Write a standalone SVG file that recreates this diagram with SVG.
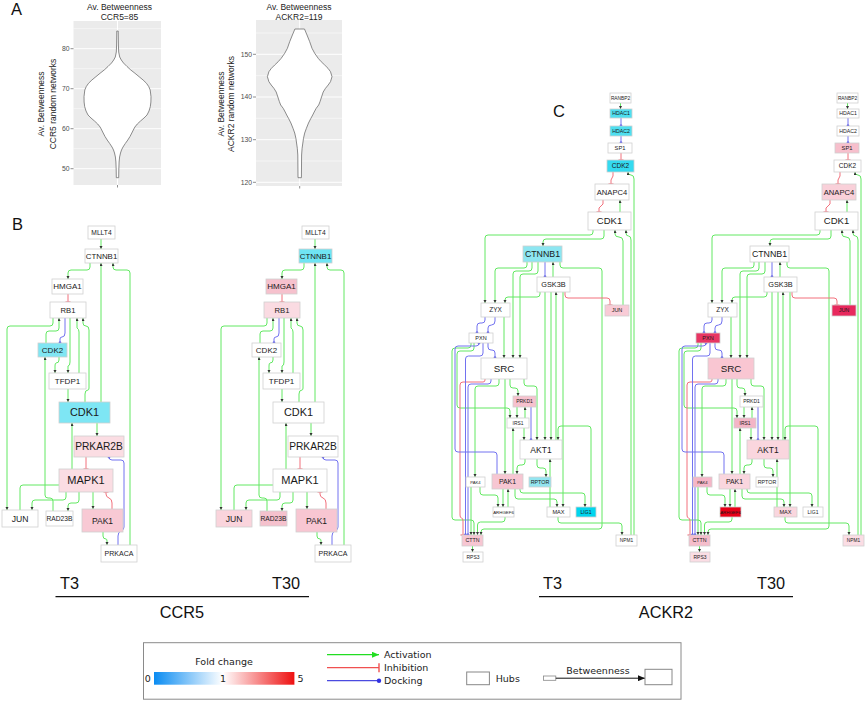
<svg xmlns="http://www.w3.org/2000/svg" width="865" height="701" viewBox="0 0 865 701">
<defs>
<style>
.bg{fill:#ebebeb}
.gM{stroke:#fff;stroke-width:1}
.gm{stroke:#fff;stroke-width:0.5}
.vio{fill:#fff;stroke:#6e6e6e;stroke-width:0.8;stroke-linejoin:round}
.tk{stroke:#444;stroke-width:0.6}
.ax{font-family:"Liberation Sans",Arial,sans-serif;fill:#4d4d4d;font-size:6.8px;text-anchor:end}
.tt{font-family:"Liberation Sans",Arial,sans-serif;fill:#222;font-size:8.5px;text-anchor:middle}
.pl{font-family:"Liberation Sans",Arial,sans-serif;fill:#111;font-size:16.5px}
.n{stroke:#d0d0d0;stroke-width:0.8}
.l{font-family:"Liberation Sans",Arial,sans-serif;fill:#1a1a1a;text-anchor:middle}
.g{fill:none;stroke:#62e862;stroke-width:1;marker-end:url(#ar)}
.r{fill:none;stroke:#f2707c;stroke-width:1;marker-end:url(#inh)}
.b{fill:none;stroke:#7272f0;stroke-width:1;marker-end:url(#dot)}
.big{font-family:"Liberation Sans",Arial,sans-serif;fill:#111;font-size:16.3px}
.lg{font-family:"DejaVu Sans",Verdana,sans-serif;fill:#222;font-size:9.5px}
</style>
<marker id="ar" markerWidth="4" markerHeight="4" refX="3" refY="1.5" orient="auto" markerUnits="userSpaceOnUse"><path d="M0,0 L3,1.5 L0,3 Z" fill="#333"/></marker>
<marker id="inh" markerWidth="3" markerHeight="6" refX="1" refY="3" orient="auto" markerUnits="userSpaceOnUse"><path d="M1,0.5 V5.5" stroke="#f2707c" stroke-width="1.2"/></marker>
<marker id="dot" markerWidth="4" markerHeight="4" refX="2" refY="2" orient="auto" markerUnits="userSpaceOnUse"><circle cx="2" cy="2" r="1.4" fill="#4a4ae6"/></marker>
<marker id="lgA" markerWidth="8" markerHeight="6" refX="7" refY="3" orient="auto" markerUnits="userSpaceOnUse"><path d="M0,0 L7,3 L0,6 Z" fill="#22dd22"/></marker>
<marker id="lgI" markerWidth="3" markerHeight="10" refX="1.5" refY="5" orient="auto" markerUnits="userSpaceOnUse"><path d="M1.5,0.5 V9.5" stroke="#f05050" stroke-width="1.4"/></marker>
<marker id="lgD" markerWidth="6" markerHeight="6" refX="3" refY="3" orient="auto" markerUnits="userSpaceOnUse"><circle cx="3" cy="3" r="2.2" fill="#3030e0"/></marker>
<marker id="lgB" markerWidth="8" markerHeight="6" refX="7" refY="3" orient="auto" markerUnits="userSpaceOnUse"><path d="M0,0 L7,3 L0,6 Z" fill="#111"/></marker>
<linearGradient id="fc" x1="0" x2="1" y1="0" y2="0">
<stop offset="0" stop-color="#0a8cf2"/>
<stop offset="0.49" stop-color="#ffffff"/>
<stop offset="1" stop-color="#ee1010"/>
</linearGradient>
</defs>
<rect width="865" height="701" fill="#fff"/>

<!-- Panel A -->
<g id="panelA">
<text class="pl" x="11" y="15">A</text>
<g id="violinL">
<rect class="bg" x="73.5" y="21" width="87.5" height="164"/>
<line class="gm" x1="73.5" x2="161" y1="28.7" y2="28.7"/>
<line class="gm" x1="73.5" x2="161" y1="68.7" y2="68.7"/>
<line class="gm" x1="73.5" x2="161" y1="108.7" y2="108.7"/>
<line class="gm" x1="73.5" x2="161" y1="148.7" y2="148.7"/>
<line class="gM" x1="73.5" x2="161" y1="48.7" y2="48.7"/>
<line class="gM" x1="73.5" x2="161" y1="88.7" y2="88.7"/>
<line class="gM" x1="73.5" x2="161" y1="128.7" y2="128.7"/>
<line class="gM" x1="73.5" x2="161" y1="168.7" y2="168.7"/>
<line class="gM" x1="117.5" x2="117.5" y1="21" y2="185"/>
<path class="vio" d="M116.8,31 L116.6,45 L116.3,52 L115.3,57 L113.7,60 L111.5,63 L108,66.5 L104.2,70 L100,73.3 L95.9,76.7 L91.9,80 L88.5,83.3 L86.2,86.7 L84.8,90 L84,96.7 L84.1,102 L84.7,106.7 L86,111 L88,115 L91,118 L94.5,121 L97.7,124 L100.1,127 L101.7,130 L103.2,133 L105,136.5 L107.2,140 L109.7,143.5 L112,147 L113.5,150 L114.5,153 L115.4,157 L115.9,162 L116.2,170 L116.3,177.7 L118.7,177.7 L118.8,170 L119.1,162 L119.6,157 L120.5,153 L121.5,150 L123,147 L125.3,143.5 L127.8,140 L130,136.5 L131.8,133 L133.3,130 L134.9,127 L137.3,124 L140.5,121 L144,118 L147,115 L149,111 L150.3,106.7 L150.9,102 L151,96.7 L150.2,90 L148.8,86.7 L146.5,83.3 L143.1,80 L139.1,76.7 L135,73.3 L130.8,70 L127,66.5 L123.5,63 L121.3,60 L119.7,57 L118.7,52 L118.4,45 L118.2,31 Z"/>
<line class="tk" x1="70.5" x2="73.5" y1="48.7" y2="48.7"/>
<line class="tk" x1="70.5" x2="73.5" y1="88.7" y2="88.7"/>
<line class="tk" x1="70.5" x2="73.5" y1="128.7" y2="128.7"/>
<line class="tk" x1="70.5" x2="73.5" y1="168.7" y2="168.7"/>
<line class="tk" x1="117.5" x2="117.5" y1="185" y2="187.5"/>
<text class="ax" x="69.5" y="51.1">80</text>
<text class="ax" x="69.5" y="91.1">70</text>
<text class="ax" x="69.5" y="131.1">60</text>
<text class="ax" x="69.5" y="171.1">50</text>
<text class="tt" x="119.5" y="10">Av. Betweenness</text>
<text class="tt" x="119.5" y="19.5">CCR5=85</text>
<text class="tt" transform="translate(44,104) rotate(-90)">Av. Betweenness</text>
<text class="tt" transform="translate(56,104) rotate(-90)">CCR5 random networks</text>
</g>
<g id="violinR">
<rect class="bg" x="256" y="20" width="86" height="166"/>
<line class="gm" x1="256" x2="342" y1="33" y2="33"/>
<line class="gm" x1="256" x2="342" y1="75.7" y2="75.7"/>
<line class="gm" x1="256" x2="342" y1="118.3" y2="118.3"/>
<line class="gm" x1="256" x2="342" y1="161" y2="161"/>
<line class="gM" x1="256" x2="342" y1="54.3" y2="54.3"/>
<line class="gM" x1="256" x2="342" y1="97" y2="97"/>
<line class="gM" x1="256" x2="342" y1="139.7" y2="139.7"/>
<line class="gM" x1="256" x2="342" y1="182.3" y2="182.3"/>
<line class="gM" x1="299.7" x2="299.7" y1="20" y2="186"/>
<path class="vio" d="M294.9,29 L292.4,35 L289.7,41.7 L287.4,48.3 L284.7,53.3 L281.2,58.3 L278.2,61.7 L274.7,65 L271.4,68.3 L268.9,71.7 L267.4,76.7 L268.9,81.7 L271.2,85 L273.9,88.3 L276.2,92 L277.2,95 L279.4,101.7 L280.7,105 L283.2,108.3 L285.2,112 L286.7,115 L288.5,118.3 L290.9,123 L293,128.3 L294.7,133 L295.9,138.3 L297.3,148.3 L297.8,155 L298,177.7 L301.4,177.7 L301.6,155 L302.1,148.3 L303.5,138.3 L304.7,133 L306.4,128.3 L308.5,123 L310.9,118.3 L312.7,115 L314.2,112 L316.2,108.3 L318.7,105 L320,101.7 L322.2,95 L323.2,92 L325.5,88.3 L328.2,85 L330.5,81.7 L332,76.7 L330.5,71.7 L328,68.3 L324.7,65 L321.2,61.7 L318.2,58.3 L314.7,53.3 L312,48.3 L309.7,41.7 L307,35 L304.5,29 Z"/>
<line class="tk" x1="253" x2="256" y1="54.3" y2="54.3"/>
<line class="tk" x1="253" x2="256" y1="97" y2="97"/>
<line class="tk" x1="253" x2="256" y1="139.7" y2="139.7"/>
<line class="tk" x1="253" x2="256" y1="182.3" y2="182.3"/>
<line class="tk" x1="299.7" x2="299.7" y1="186" y2="188.5"/>
<text class="ax" x="252" y="56.7">150</text>
<text class="ax" x="252" y="99.4">140</text>
<text class="ax" x="252" y="142.1">130</text>
<text class="ax" x="252" y="184.7">120</text>
<text class="tt" x="299" y="10">Av. Betweenness</text>
<text class="tt" x="299" y="19.5">ACKR2=119</text>
<text class="tt" transform="translate(223.7,104) rotate(-90)">Av. Betweenness</text>
<text class="tt" transform="translate(234,104) rotate(-90)">ACKR2 random networks</text>
</g>
</g>

<!-- Panel B -->
<text class="pl" x="12" y="230">B</text>
<g id="B-T3">
<g id="B-T3-edges">
<path class="g" d="M101,239V249"/>
<path class="g" d="M90,263V267Q90,270 87,270H71Q68,270 68,273V279"/>
<path class="r" d="M68,294V302"/>
<path class="g" d="M53,318V323Q53,326 50,326H10Q7,326 7,329V510"/>
<path class="g" d="M46,343V334Q46,331 49,331H56Q59,331 59,328V318"/>
<path class="b" d="M65,318V333Q65,337 62,337Q60,337 60,339V343"/>
<path class="g" d="M70,318V362Q70,366 68,366V373"/>
<path class="g" d="M79,373V332Q79,329 77,328V318"/>
<path class="g" d="M85,402V394Q85,390 88,390Q89,390 89,388V330Q89,326 86,326Q83,326 83,323V318"/>
<path class="g" d="M59,357V360Q59,363 56,363Q55,363 55,366V373"/>
<path class="g" d="M101,402V263"/>
<path class="g" d="M130,545V273Q130,270 127,270H116Q113,270 113,267V263"/>
<path class="g" d="M53,511V501Q53,498 50,498H48Q45,498 45,495V357"/>
<path class="g" d="M68,389V402"/>
<path class="g" d="M20,510V488Q20,485 23,485H69Q72,485 72,482V423"/>
<path class="g" d="M97,423V436"/>
<path class="r" d="M86,457V469"/>
<path class="g" d="M66,492V497Q66,500 63,500H35Q32,500 32,503V510"/>
<path class="g" d="M79,492V500Q79,503 76,503H71Q68,503 68,506V511"/>
<path class="g" d="M93,492V509"/>
<path class="r" d="M112,509V503Q112,499 109,498Q106,497 106,494V492"/>
<path class="g" d="M103,532V536Q103,539 106,539Q107,539 107,541V545"/>
<path class="b" d="M118,545V536Q118,532 121,531Q124,530 124,527V463Q124,460 121,460H112Q109,460 109,457"/>
</g>
<g id="bL-MLLT4"><rect class="n" fill="#fff" x="88" y="226" width="27" height="13"/><text class="l" x="101.5" y="234.9" font-size="6.7">MLLT4</text></g>
<g id="bL-CTNNB1"><rect class="n" fill="#fff" x="85" y="249" width="33" height="14"/><text class="l" x="101.5" y="258.8" font-size="7.9">CTNNB1</text></g>
<g id="bL-HMGA1"><rect class="n" fill="#fff" x="52" y="279" width="31" height="15"/><text class="l" x="67.5" y="289.3" font-size="8">HMGA1</text></g>
<g id="bL-RB1"><rect class="n" fill="#fff" x="50" y="302" width="36" height="16"/><text class="l" x="68" y="312.7" font-size="7.7">RB1</text></g>
<g id="bL-CDK2"><rect class="n" fill="#80e6f3" x="38" y="343" width="29" height="14"/><text class="l" x="52.5" y="352.8" font-size="8">CDK2</text></g>
<g id="bL-TFDP1"><rect class="n" fill="#fff" x="49" y="373" width="37" height="16"/><text class="l" x="67.5" y="383.8" font-size="8">TFDP1</text></g>
<g id="bL-CDK1"><rect class="n" fill="#7ee6f4" x="59" y="402" width="51" height="21"/><text class="l" x="84.5" y="416.3" font-size="10.9">CDK1</text></g>
<g id="bL-PRKAR2B"><rect class="n" fill="#fbdde3" x="74" y="436" width="50" height="21"/><text class="l" x="99" y="450.1" font-size="10.2">PRKAR2B</text></g>
<g id="bL-MAPK1"><rect class="n" fill="#fbdde3" x="59" y="469" width="54" height="23"/><text class="l" x="86" y="484.4" font-size="11">MAPK1</text></g>
<g id="bL-JUN"><rect class="n" fill="#fff" x="2" y="510" width="36" height="17"/><text class="l" x="20" y="521.5" font-size="8.6">JUN</text></g>
<g id="bL-RAD23B"><rect class="n" fill="#fff" x="46" y="511" width="27" height="15"/><text class="l" x="59.5" y="520.9" font-size="6.7">RAD23B</text></g>
<g id="bL-PAK1"><rect class="n" fill="#f8c9d4" x="82" y="509" width="41" height="23"/><text class="l" x="102.5" y="523.5" font-size="8.5">PAK1</text></g>
<g id="bL-PRKACA"><rect class="n" fill="#fff" x="101" y="545" width="36" height="17"/><text class="l" x="119" y="556" font-size="7">PRKACA</text></g>
</g>

<g id="B-T30" transform="translate(214,0)">
<g id="B-T30-edges">
<path class="g" d="M101,239V249"/>
<path class="g" d="M90,263V267Q90,270 87,270H71Q68,270 68,273V279"/>
<path class="r" d="M68,294V302"/>
<path class="g" d="M53,318V323Q53,326 50,326H10Q7,326 7,329V510"/>
<path class="g" d="M46,343V334Q46,331 49,331H56Q59,331 59,328V318"/>
<path class="b" d="M65,318V333Q65,337 62,337Q60,337 60,339V343"/>
<path class="g" d="M70,318V362Q70,366 68,366V373"/>
<path class="g" d="M79,373V332Q79,329 77,328V318"/>
<path class="g" d="M85,402V394Q85,390 88,390Q89,390 89,388V330Q89,326 86,326Q83,326 83,323V318"/>
<path class="g" d="M59,357V360Q59,363 56,363Q55,363 55,366V373"/>
<path class="g" d="M101,402V263"/>
<path class="g" d="M130,545V273Q130,270 127,270H116Q113,270 113,267V263"/>
<path class="g" d="M53,511V501Q53,498 50,498H48Q45,498 45,495V357"/>
<path class="g" d="M68,389V402"/>
<path class="g" d="M20,510V488Q20,485 23,485H69Q72,485 72,482V423"/>
<path class="g" d="M97,423V436"/>
<path class="r" d="M86,457V469"/>
<path class="g" d="M66,492V497Q66,500 63,500H35Q32,500 32,503V510"/>
<path class="g" d="M79,492V500Q79,503 76,503H71Q68,503 68,506V511"/>
<path class="g" d="M93,492V509"/>
<path class="r" d="M112,509V503Q112,499 109,498Q106,497 106,494V492"/>
<path class="g" d="M103,532V536Q103,539 106,539Q107,539 107,541V545"/>
<path class="b" d="M118,545V536Q118,532 121,531Q124,530 124,527V463Q124,460 121,460H112Q109,460 109,457"/>
</g>
<g id="bR-MLLT4"><rect class="n" fill="#fff" x="88" y="226" width="27" height="13"/><text class="l" x="101.5" y="234.9" font-size="6.7">MLLT4</text></g>
<g id="bR-CTNNB1"><rect class="n" fill="#6fe4f3" x="85" y="249" width="33" height="14"/><text class="l" x="101.5" y="258.8" font-size="7.9">CTNNB1</text></g>
<g id="bR-HMGA1"><rect class="n" fill="#f6c1cd" x="52" y="279" width="31" height="15"/><text class="l" x="67.5" y="289.3" font-size="8">HMGA1</text></g>
<g id="bR-RB1"><rect class="n" fill="#fadbe2" x="50" y="302" width="36" height="16"/><text class="l" x="68" y="312.7" font-size="7.7">RB1</text></g>
<g id="bR-CDK2"><rect class="n" fill="#fff" x="38" y="343" width="29" height="14"/><text class="l" x="52.5" y="352.8" font-size="8">CDK2</text></g>
<g id="bR-TFDP1"><rect class="n" fill="#fff" x="49" y="373" width="37" height="16"/><text class="l" x="67.5" y="383.8" font-size="8">TFDP1</text></g>
<g id="bR-CDK1"><rect class="n" fill="#fff" x="59" y="402" width="51" height="21"/><text class="l" x="84.5" y="416.3" font-size="10.9">CDK1</text></g>
<g id="bR-PRKAR2B"><rect class="n" fill="#fff" x="74" y="436" width="50" height="21"/><text class="l" x="99" y="450.1" font-size="10.2">PRKAR2B</text></g>
<g id="bR-MAPK1"><rect class="n" fill="#fff" x="59" y="469" width="54" height="23"/><text class="l" x="86" y="484.4" font-size="11">MAPK1</text></g>
<g id="bR-JUN"><rect class="n" fill="#fad4dc" x="2" y="510" width="36" height="17"/><text class="l" x="20" y="521.5" font-size="8.6">JUN</text></g>
<g id="bR-RAD23B"><rect class="n" fill="#f5c1cd" x="46" y="511" width="27" height="15"/><text class="l" x="59.5" y="520.9" font-size="6.7">RAD23B</text></g>
<g id="bR-PAK1"><rect class="n" fill="#f8c6d2" x="82" y="509" width="41" height="23"/><text class="l" x="102.5" y="523.5" font-size="8.5">PAK1</text></g>
<g id="bR-PRKACA"><rect class="n" fill="#fff" x="101" y="545" width="36" height="17"/><text class="l" x="119" y="556" font-size="7">PRKACA</text></g>
</g>

<!-- Panel C -->
<text class="pl" x="553" y="117" font-size="17">C</text>
<g id="C-T3">
<g id="C-T3-edges">
<path class="g" d="M620.5,103V109"/>
<path class="g" d="M620,212V200"/>
<path class="g" d="M634,535V179Q634,175 631,175Q628,175 628,172"/>
<path class="g" d="M631,535V240Q631,236 628.5,236Q626,236 626,233V230"/>
<path class="g" d="M593,230V232Q593,235 590,235H488Q485,235 485,238V303"/>
<path class="g" d="M604,230V236Q604,239 601,239H546Q543,239 543,242V246"/>
<path class="g" d="M623,305V241Q623,237 619,237Q615,237 615,234V230"/>
<path class="g" d="M527,262V265Q527,268 524,268H498Q495,268 495,271V303"/>
<path class="g" d="M540,292V294Q540,297 537,297H508Q505,297 505,300V303"/>
<path class="g" d="M532,262V268Q532,271 529,271H516Q513,271 513,274V358"/>
<path class="g" d="M538,262V271Q538,274 535,274H523Q520,274 520,277V358"/>
<path class="g" d="M553,277V262"/>
<path class="g" d="M560,262V265Q560,268 563,268H599Q602,268 602,271V526Q602,529 599,529H484Q481,529 481,532V535"/>
<path class="g" d="M591,507V429Q591,426 588,426H561Q558,426 558,429V440"/>
<path class="g" d="M545,292V440"/>
<path class="g" d="M551,292V440"/>
<path class="g" d="M556,440V292"/>
<path class="g" d="M563,292V507"/>
<path class="g" d="M504,317V358"/>
<path class="g" d="M471,343V345Q471,348 468,348H455Q452,348 452,351V517Q452,520 455,520H471Q474,520 474,523V535"/>
<path class="g" d="M474,343V348Q474,351 471,351H460Q457,351 457,354V405Q457,408 460,408H507Q510,408 510,411V418"/>
<path class="g" d="M499,379V383Q499,386 496,386H478Q475,386 475,389V477"/>
<path class="g" d="M505,379V474"/>
<path class="g" d="M510,379V385Q510,388 513,388H515Q518,388 518,391V396"/>
<path class="g" d="M524,379V383Q524,386 527,386H534Q537,386 537,389V440"/>
<path class="g" d="M517,407V418"/>
<path class="g" d="M525,418V407"/>
<path class="g" d="M524,428V440"/>
<path class="g" d="M513,474V428"/>
<path class="g" d="M525,459V462Q525,465 522,465H520Q517,465 517,468V474"/>
<path class="g" d="M537,459V465Q537,468 540,468H543Q546,468 546,471V477"/>
<path class="g" d="M550,507V459"/>
<path class="g" d="M558,517V520Q558,523 561,523H619Q622,523 622,526V535"/>
<path class="g" d="M520,489V490Q520,493 523,493H582Q585,493 585,496V507"/>
<path class="g" d="M515,489V496Q515,499 518,499H554Q557,499 557,502V507"/>
<path class="g" d="M508,507V489"/>
<path class="g" d="M503,489V507"/>
<path class="g" d="M480,487V492Q480,495 483,495H495Q498,495 498,498V507"/>
<path class="g" d="M471,487V535"/>
<path class="g" d="M505,517V519Q505,522 502,522H480.5Q477.5,522 477.5,525V535"/>
<path class="g" d="M472.5,546V552"/>
<path class="r" d="M621,153V160"/>
<path class="r" d="M613,172V176L611,180V184"/>
<path class="r" d="M603,200V204L599,208V212"/>
<path class="r" d="M565,292V295Q565,298 568,298H607Q610,298 610,301V305"/>
<path class="r" d="M485,379V380Q485,382 483,382H463Q460,382 460,385V515Q460,518 461.5,518Q463,518 463,521V535"/>
<path class="b" d="M621,118V126"/>
<path class="b" d="M621,136V143"/>
<path class="b" d="M545,262V277"/>
<path class="b" d="M531,407V440"/>
<path class="b" d="M485,317V320Q485,323 482,323H480Q477,323 477,326V333"/>
<path class="b" d="M495,317V321Q495,325 491.5,325Q488,325 488,328V333"/>
<path class="b" d="M488,343V347Q488,350 491,350H492Q495,350 495,353V358"/>
<path class="b" d="M497,474V455Q497,452 494,452H458Q455,452 455,449V349Q455,346 458,346H476Q479,346 479,343"/>
<path class="b" d="M483,343V353Q483,356 480,356H468.5Q465.5,356 465.5,359V535"/>
<path class="b" d="M491,379V381Q491,384 488,384H471Q468,384 468,387V535"/>
</g>
<g id="cL-RANBP2"><rect class="n" fill="#fff" x="610" y="93" width="21" height="10"/><text class="l" x="620.5" y="99.7" font-size="4.8">RANBP2</text></g>
<g id="cL-HDAC1"><rect class="n" fill="#4fdff0" x="610" y="109" width="22" height="9"/><text class="l" x="621" y="115.3" font-size="5.2">HDAC1</text></g>
<g id="cL-HDAC2"><rect class="n" fill="#4fdff0" x="610" y="126" width="22" height="10"/><text class="l" x="621" y="132.8" font-size="5.2">HDAC2</text></g>
<g id="cL-SP1"><rect class="n" fill="#fff" x="608" y="143" width="24" height="10"/><text class="l" x="620" y="150" font-size="5.8">SP1</text></g>
<g id="cL-CDK2"><rect class="n" fill="#34daf0" x="607" y="160" width="27" height="12"/><text class="l" x="620.5" y="168.3" font-size="6.5">CDK2</text></g>
<g id="cL-ANAPC4"><rect class="n" fill="#fff" x="595" y="184" width="34" height="16"/><text class="l" x="612" y="194.7" font-size="7.6">ANAPC4</text></g>
<g id="cL-CDK1"><rect class="n" fill="#fff" x="588" y="212" width="43" height="18"/><text class="l" x="609.5" y="224.3" font-size="9.5">CDK1</text></g>
<g id="cL-CTNNB1"><rect class="n" fill="#8de6f1" x="523" y="246" width="39" height="16"/><text class="l" x="542.5" y="257.1" font-size="8.8">CTNNB1</text></g>
<g id="cL-GSK3B"><rect class="n" fill="#fff" x="537" y="277" width="33" height="15"/><text class="l" x="553.5" y="287.1" font-size="7.3">GSK3B</text></g>
<g id="cL-ZYX"><rect class="n" fill="#fff" x="481" y="303" width="29" height="14"/><text class="l" x="495.5" y="312.3" font-size="6.5">ZYX</text></g>
<g id="cL-JUN"><rect class="n" fill="#f9cbd6" x="605" y="305" width="24" height="11"/><text class="l" x="617" y="312.4" font-size="5.5">JUN</text></g>
<g id="cL-PXN"><rect class="n" fill="#fff" x="469" y="333" width="24" height="10"/><text class="l" x="481" y="339.9" font-size="5.5">PXN</text></g>
<g id="cL-SRC"><rect class="n" fill="#fff" x="481" y="358" width="46" height="21"/><text class="l" x="504" y="371.9" font-size="9.8">SRC</text></g>
<g id="cL-PRKD1"><rect class="n" fill="#f7c1ce" x="513" y="396" width="23" height="11"/><text class="l" x="524.5" y="403.3" font-size="5">PRKD1</text></g>
<g id="cL-IRS1"><rect class="n" fill="#fff" x="507" y="418" width="22" height="10"/><text class="l" x="518" y="424.7" font-size="4.9">IRS1</text></g>
<g id="cL-AKT1"><rect class="n" fill="#fff" x="520" y="440" width="42" height="19"/><text class="l" x="541" y="452.5" font-size="8.5">AKT1</text></g>
<g id="cL-PAK4"><rect class="n" fill="#fff" x="466" y="477" width="19" height="10"/><text class="l" x="475.5" y="483.5" font-size="4.2">PAK4</text></g>
<g id="cL-PAK1"><rect class="n" fill="#f7c6d2" x="492" y="474" width="31" height="15"/><text class="l" x="507.5" y="483.9" font-size="6.9">PAK1</text></g>
<g id="cL-RPTOR"><rect class="n" fill="#93e5f0" x="529" y="477" width="22" height="10"/><text class="l" x="540" y="483.9" font-size="5.3">RPTOR</text></g>
<g id="cL-ARHGEF6"><rect class="n" fill="#fff" x="493" y="507" width="21" height="10"/><text class="l" x="503.5" y="513.6" font-size="4.4">ARHGEF6</text></g>
<g id="cL-MAX"><rect class="n" fill="#fff" x="547" y="507" width="23" height="10"/><text class="l" x="558.5" y="514" font-size="5.6">MAX</text></g>
<g id="cL-LIG1"><rect class="n" fill="#00d5ee" x="576" y="507" width="20" height="10"/><text class="l" x="586" y="513.8" font-size="5">LIG1</text></g>
<g id="cL-CTTN"><rect class="n" fill="#f7c6d2" x="462" y="535" width="21" height="11"/><text class="l" x="472.5" y="542.4" font-size="5.3">CTTN</text></g>
<g id="cL-NPM1"><rect class="n" fill="#fff" x="616" y="535" width="21" height="11"/><text class="l" x="626.5" y="542.2" font-size="4.8">NPM1</text></g>
<g id="cL-RPS3"><rect class="n" fill="#fff" x="463" y="552" width="20" height="10"/><text class="l" x="473" y="558.8" font-size="5">RPS3</text></g>
</g>

<g id="C-T30" transform="translate(227,0)">
<g id="C-T30-edges">
<path class="g" d="M620.5,103V109"/>
<path class="g" d="M620,212V200"/>
<path class="g" d="M634,535V179Q634,175 631,175Q628,175 628,172"/>
<path class="g" d="M631,535V240Q631,236 628.5,236Q626,236 626,233V230"/>
<path class="g" d="M593,230V232Q593,235 590,235H488Q485,235 485,238V303"/>
<path class="g" d="M604,230V236Q604,239 601,239H546Q543,239 543,242V246"/>
<path class="g" d="M623,305V241Q623,237 619,237Q615,237 615,234V230"/>
<path class="g" d="M527,262V265Q527,268 524,268H498Q495,268 495,271V303"/>
<path class="g" d="M540,292V294Q540,297 537,297H508Q505,297 505,300V303"/>
<path class="g" d="M532,262V268Q532,271 529,271H516Q513,271 513,274V358"/>
<path class="g" d="M538,262V271Q538,274 535,274H523Q520,274 520,277V358"/>
<path class="g" d="M553,277V262"/>
<path class="g" d="M560,262V265Q560,268 563,268H599Q602,268 602,271V526Q602,529 599,529H484Q481,529 481,532V535"/>
<path class="g" d="M591,507V429Q591,426 588,426H561Q558,426 558,429V440"/>
<path class="g" d="M545,292V440"/>
<path class="g" d="M551,292V440"/>
<path class="g" d="M556,440V292"/>
<path class="g" d="M563,292V507"/>
<path class="g" d="M504,317V358"/>
<path class="g" d="M471,343V345Q471,348 468,348H455Q452,348 452,351V517Q452,520 455,520H471Q474,520 474,523V535"/>
<path class="g" d="M474,343V348Q474,351 471,351H460Q457,351 457,354V405Q457,408 460,408H507Q510,408 510,411V418"/>
<path class="g" d="M499,379V383Q499,386 496,386H478Q475,386 475,389V477"/>
<path class="g" d="M505,379V474"/>
<path class="g" d="M510,379V385Q510,388 513,388H515Q518,388 518,391V396"/>
<path class="g" d="M524,379V383Q524,386 527,386H534Q537,386 537,389V440"/>
<path class="g" d="M517,407V418"/>
<path class="g" d="M525,418V407"/>
<path class="g" d="M524,428V440"/>
<path class="g" d="M513,474V428"/>
<path class="g" d="M525,459V462Q525,465 522,465H520Q517,465 517,468V474"/>
<path class="g" d="M537,459V465Q537,468 540,468H543Q546,468 546,471V477"/>
<path class="g" d="M550,507V459"/>
<path class="g" d="M558,517V520Q558,523 561,523H619Q622,523 622,526V535"/>
<path class="g" d="M520,489V490Q520,493 523,493H582Q585,493 585,496V507"/>
<path class="g" d="M515,489V496Q515,499 518,499H554Q557,499 557,502V507"/>
<path class="g" d="M508,507V489"/>
<path class="g" d="M503,489V507"/>
<path class="g" d="M480,487V492Q480,495 483,495H495Q498,495 498,498V507"/>
<path class="g" d="M471,487V535"/>
<path class="g" d="M505,517V519Q505,522 502,522H480.5Q477.5,522 477.5,525V535"/>
<path class="g" d="M472.5,546V552"/>
<path class="r" d="M621,153V160"/>
<path class="r" d="M613,172V176L611,180V184"/>
<path class="r" d="M603,200V204L599,208V212"/>
<path class="r" d="M565,292V295Q565,298 568,298H607Q610,298 610,301V305"/>
<path class="r" d="M485,379V380Q485,382 483,382H463Q460,382 460,385V515Q460,518 461.5,518Q463,518 463,521V535"/>
<path class="b" d="M621,118V126"/>
<path class="b" d="M621,136V143"/>
<path class="b" d="M545,262V277"/>
<path class="b" d="M531,407V440"/>
<path class="b" d="M485,317V320Q485,323 482,323H480Q477,323 477,326V333"/>
<path class="b" d="M495,317V321Q495,325 491.5,325Q488,325 488,328V333"/>
<path class="b" d="M488,343V347Q488,350 491,350H492Q495,350 495,353V358"/>
<path class="b" d="M497,474V455Q497,452 494,452H458Q455,452 455,449V349Q455,346 458,346H476Q479,346 479,343"/>
<path class="b" d="M483,343V353Q483,356 480,356H468.5Q465.5,356 465.5,359V535"/>
<path class="b" d="M491,379V381Q491,384 488,384H471Q468,384 468,387V535"/>
</g>
<g id="cR-RANBP2"><rect class="n" fill="#fff" x="610" y="93" width="21" height="10"/><text class="l" x="620.5" y="99.7" font-size="4.8">RANBP2</text></g>
<g id="cR-HDAC1"><rect class="n" fill="#fff" x="610" y="109" width="22" height="9"/><text class="l" x="621" y="115.3" font-size="5.2">HDAC1</text></g>
<g id="cR-HDAC2"><rect class="n" fill="#fff" x="610" y="126" width="22" height="10"/><text class="l" x="621" y="132.8" font-size="5.2">HDAC2</text></g>
<g id="cR-SP1"><rect class="n" fill="#f7bfcc" x="608" y="143" width="24" height="10"/><text class="l" x="620" y="150" font-size="5.8">SP1</text></g>
<g id="cR-CDK2"><rect class="n" fill="#fff" x="607" y="160" width="27" height="12"/><text class="l" x="620.5" y="168.3" font-size="6.5">CDK2</text></g>
<g id="cR-ANAPC4"><rect class="n" fill="#f9d0d9" x="595" y="184" width="34" height="16"/><text class="l" x="612" y="194.7" font-size="7.6">ANAPC4</text></g>
<g id="cR-CDK1"><rect class="n" fill="#fff" x="588" y="212" width="43" height="18"/><text class="l" x="609.5" y="224.3" font-size="9.5">CDK1</text></g>
<g id="cR-CTNNB1"><rect class="n" fill="#fff" x="523" y="246" width="39" height="16"/><text class="l" x="542.5" y="257.1" font-size="8.8">CTNNB1</text></g>
<g id="cR-GSK3B"><rect class="n" fill="#fff" x="537" y="277" width="33" height="15"/><text class="l" x="553.5" y="287.1" font-size="7.3">GSK3B</text></g>
<g id="cR-ZYX"><rect class="n" fill="#fff" x="481" y="303" width="29" height="14"/><text class="l" x="495.5" y="312.3" font-size="6.5">ZYX</text></g>
<g id="cR-JUN"><rect class="n" fill="#e8285d" x="605" y="305" width="24" height="11"/><text class="l" x="617" y="312.4" font-size="5.5">JUN</text></g>
<g id="cR-PXN"><rect class="n" fill="#e83563" x="469" y="333" width="24" height="10"/><text class="l" x="481" y="339.9" font-size="5.5">PXN</text></g>
<g id="cR-SRC"><rect class="n" fill="#f9c6d2" x="481" y="358" width="46" height="21"/><text class="l" x="504" y="371.9" font-size="9.8">SRC</text></g>
<g id="cR-PRKD1"><rect class="n" fill="#fff" x="513" y="396" width="23" height="11"/><text class="l" x="524.5" y="403.3" font-size="5">PRKD1</text></g>
<g id="cR-IRS1"><rect class="n" fill="#f4b5c6" x="507" y="418" width="22" height="10"/><text class="l" x="518" y="424.7" font-size="4.9">IRS1</text></g>
<g id="cR-AKT1"><rect class="n" fill="#fad6de" x="520" y="440" width="42" height="19"/><text class="l" x="541" y="452.5" font-size="8.5">AKT1</text></g>
<g id="cR-PAK4"><rect class="n" fill="#f5b6c7" x="466" y="477" width="19" height="10"/><text class="l" x="475.5" y="483.5" font-size="4.2">PAK4</text></g>
<g id="cR-PAK1"><rect class="n" fill="#fad6de" x="492" y="474" width="31" height="15"/><text class="l" x="507.5" y="483.9" font-size="6.9">PAK1</text></g>
<g id="cR-RPTOR"><rect class="n" fill="#fff" x="529" y="477" width="22" height="10"/><text class="l" x="540" y="483.9" font-size="5.3">RPTOR</text></g>
<g id="cR-ARHGEF6"><rect class="n" fill="#e80016" x="493" y="507" width="21" height="10"/><text class="l" x="503.5" y="513.6" font-size="4.4">ARHGEF6</text></g>
<g id="cR-MAX"><rect class="n" fill="#fad6de" x="547" y="507" width="23" height="10"/><text class="l" x="558.5" y="514" font-size="5.6">MAX</text></g>
<g id="cR-LIG1"><rect class="n" fill="#fff" x="576" y="507" width="20" height="10"/><text class="l" x="586" y="513.8" font-size="5">LIG1</text></g>
<g id="cR-CTTN"><rect class="n" fill="#f5bdcb" x="462" y="535" width="21" height="11"/><text class="l" x="472.5" y="542.4" font-size="5.3">CTTN</text></g>
<g id="cR-NPM1"><rect class="n" fill="#fbdde4" x="616" y="535" width="21" height="11"/><text class="l" x="626.5" y="542.2" font-size="4.8">NPM1</text></g>
<g id="cR-RPS3"><rect class="n" fill="#fbdde4" x="463" y="552" width="20" height="10"/><text class="l" x="473" y="558.8" font-size="5">RPS3</text></g>
</g>

<!-- Time / receptor labels -->
<g id="labels">
<text class="big" x="60" y="588.5">T3</text>
<text class="big" x="272" y="588.5">T30</text>
<line x1="55.5" x2="309" y1="596.7" y2="596.7" stroke="#111" stroke-width="1.3"/>
<text class="big" x="182" y="617.5" text-anchor="middle">CCR5</text>
<text class="big" x="543" y="588.5">T3</text>
<text class="big" x="757" y="588.5">T30</text>
<line x1="539" x2="793" y1="596.7" y2="596.7" stroke="#111" stroke-width="1.3"/>
<text class="big" x="666" y="617.5" text-anchor="middle">ACKR2</text>
</g>

<!-- Legend -->
<g id="legend">
<rect x="143.5" y="642.7" width="537.5" height="56.5" fill="#fff" stroke="#8a8a8a" stroke-width="1"/>
<text class="lg" x="224" y="665" text-anchor="middle" font-size="8.8">Fold change</text>
<rect x="154" y="672" width="140.4" height="12.7" fill="url(#fc)"/>
<text class="lg" x="147.7" y="682" text-anchor="middle" font-size="8.8">0</text>
<text class="lg" x="223" y="682" text-anchor="middle" font-size="8.8">1</text>
<text class="lg" x="300.5" y="682" text-anchor="middle" font-size="8.8">5</text>
<line x1="327" x2="379" y1="654.7" y2="654.7" stroke="#22dd22" stroke-width="1.3" marker-end="url(#lgA)"/>
<text class="lg" x="384" y="658.2">Activation</text>
<line x1="327" x2="379" y1="667.7" y2="667.7" stroke="#f05050" stroke-width="1.3" marker-end="url(#lgI)"/>
<text class="lg" x="384" y="671.2">Inhibition</text>
<line x1="327" x2="379" y1="680.7" y2="680.7" stroke="#4a4ae0" stroke-width="1.3" marker-end="url(#lgD)"/>
<text class="lg" x="384" y="684.2">Docking</text>
<rect x="466.7" y="672" width="22.7" height="12.7" fill="#fff" stroke="#888" stroke-width="1"/>
<text class="lg" x="495.7" y="682">Hubs</text>
<rect x="543.6" y="676" width="12.2" height="4.3" fill="#fff" stroke="#888" stroke-width="0.8"/>
<line x1="555.8" x2="645" y1="678.2" y2="678.2" stroke="#111" stroke-width="1" marker-end="url(#lgB)"/>
<rect x="645" y="669.3" width="27" height="15.4" fill="#fff" stroke="#888" stroke-width="1"/>
<text class="lg" x="598" y="674" text-anchor="middle">Betweenness</text>
</g>
</svg>
